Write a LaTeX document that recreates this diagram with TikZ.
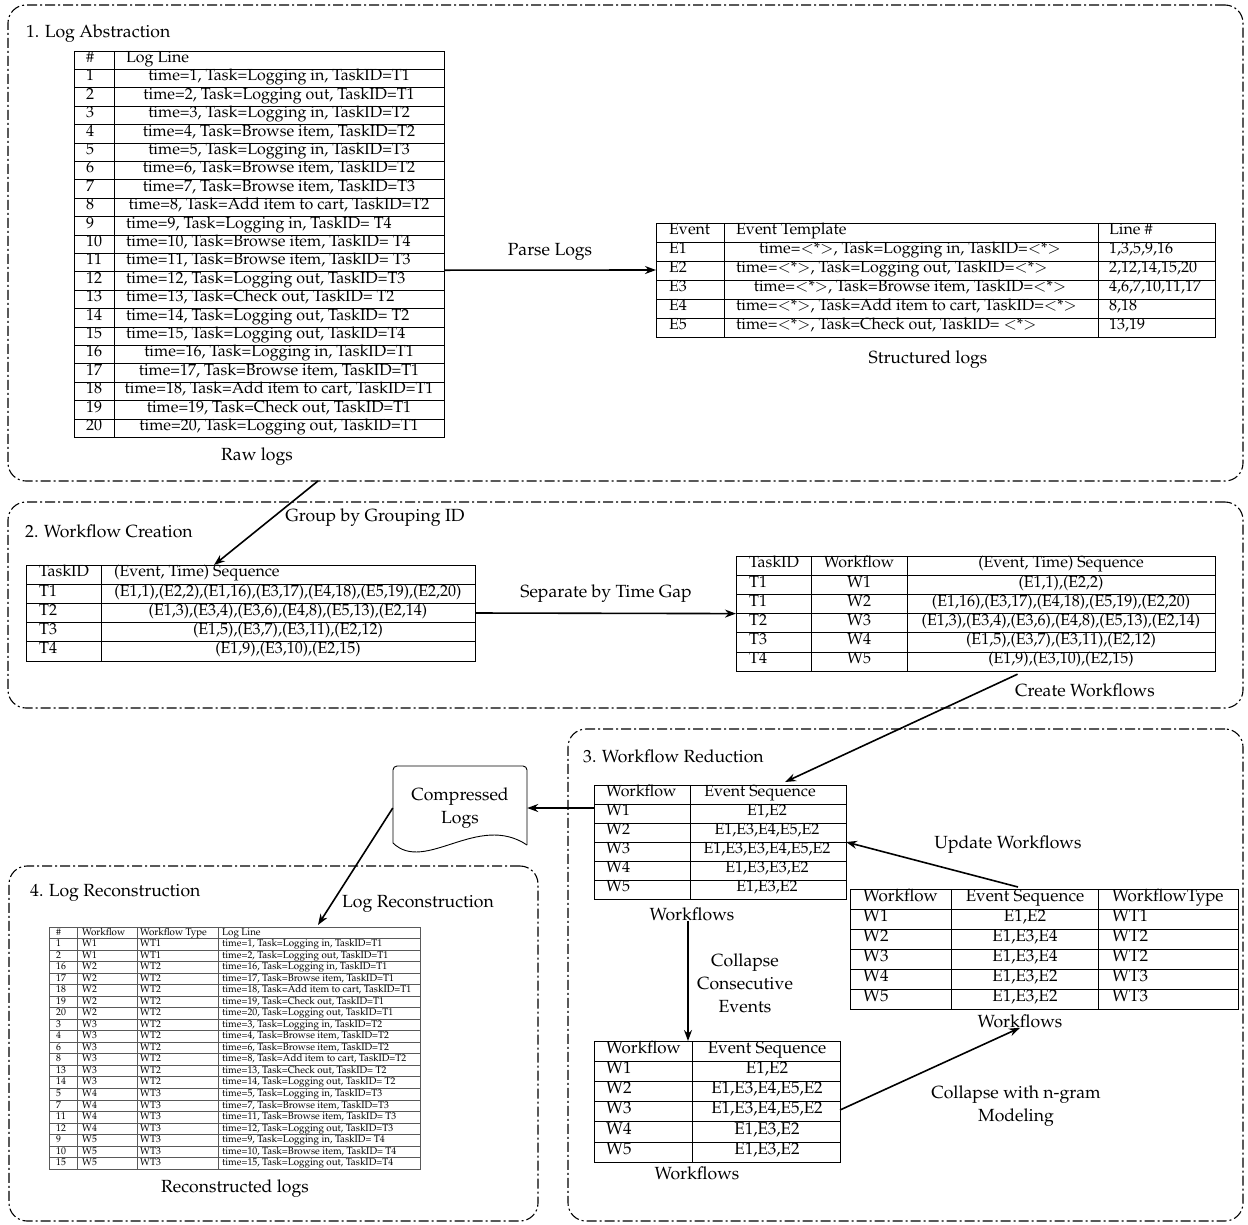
\documentclass[tikz,border=0pt]{standalone}
\usepackage[T1]{fontenc}
\usepackage{mathpazo}
\usepackage{tikz}
\usetikzlibrary{positioning, arrows.meta, calc}

\newcommand{\wild}{$<$*$>$}

\begin{document}
\begin{tikzpicture}[x=1pt, y=-1pt,
  secbox/.style={draw, line width=1.1pt, rounded corners=18pt, inner sep=0pt, outer sep=0pt,
    dash pattern=on 10pt off 3pt on 2pt off 3pt},
  tbl/.style={draw, line width=0.8pt, inner sep=0pt, outer sep=0pt, anchor=north west},
  rowline/.style={line width=0.7pt},
  cell/.style={inner sep=0pt, font=\fontsize{16}{19}\selectfont},
  bigcell/.style={inner sep=0pt, font=\fontsize{17}{20}\selectfont},
  tinycell/.style={inner sep=0pt, font=\fontsize{9.8}{11}\selectfont},
  title/.style={anchor=west, inner sep=0pt, font=\fontsize{17.6}{20}\selectfont},
  lbl/.style={inner sep=0pt, align=center, font=\fontsize{17.6}{23}\selectfont},
  flow/.style={-{Stealth[length=11pt,width=8pt]}, line width=1.6pt}]

  \useasboundingbox (0,0) rectangle (1248,1224);

  % --- Sezioni ---
  \node[secbox, minimum width=1235pt, minimum height=476pt] (sec1) at (625.5,243) {};
  \node[secbox, minimum width=1235pt, minimum height=206pt] (sec2) at (625.5,605) {};
  \node[secbox, minimum width=675pt, minimum height=492pt] (sec3) at (905.5,975) {};
  \node[secbox, minimum width=529pt, minimum height=355pt] (sec4) at (273.5,1043.5) {};

  \node[title] (t1) at (26,34) {1. Log Abstraction};
  \node[title] (t2) at (25,531) {2. Workflow Creation};
  \node[title] (t3) at (583,756) {3. Workflow Reduction};
  \node[title] (t4) at (30,893) {4. Log Reconstruction};

  % --- Raw logs ---
  \node[tbl, minimum width=370pt, minimum height=386.4pt] (raw) at (74,51) {};
  \draw[rowline] (114,51) -- (114,437.4);
  \foreach \k in {1,...,20}
    \draw[rowline] (74,{51+18.4*\k}) -- (444,{51+18.4*\k});
  \node[cell, anchor=mid] (raw-h1) at (90,60.2) {\#};
  \node[cell, anchor=mid west] (raw-h2) at (126,60.2) {Log Line};
  \foreach \k in {1,...,20}
    \node[cell, anchor=mid west] (raw-n\k) at (86,{60.2+18.4*\k}) {\k};
  \foreach \txt [count=\k] in {{time=1, Task=Logging in, TaskID=T1},
      {time=2, Task=Logging out, TaskID=T1}, {time=3, Task=Logging in, TaskID=T2},
      {time=4, Task=Browse item, TaskID=T2}, {time=5, Task=Logging in, TaskID=T3},
      {time=6, Task=Browse item, TaskID=T2}, {time=7, Task=Browse item, TaskID=T3},
      {time=8, Task=Add item to cart, TaskID=T2}}
    \node[cell, anchor=mid] (raw-l\k) at (279,{60.2+18.4*\k}) {\txt};
  \foreach \txt [count=\k from 9] in {{time=9, Task=Logging in, TaskID= T4},
      {time=10, Task=Browse item, TaskID= T4}, {time=11, Task=Browse item, TaskID= T3},
      {time=12, Task=Logging out, TaskID=T3}, {time=13, Task=Check out, TaskID= T2},
      {time=14, Task=Logging out, TaskID= T2}, {time=15, Task=Logging out, TaskID=T4}}
    \node[cell, anchor=mid west] (raw-l\k) at (126,{60.2+18.4*\k}) {\txt};
  \foreach \txt [count=\k from 16] in {{time=16, Task=Logging in, TaskID=T1},
      {time=17, Task=Browse item, TaskID=T1}, {time=18, Task=Add item to cart, TaskID=T1},
      {time=19, Task=Check out, TaskID=T1}, {time=20, Task=Logging out, TaskID=T1}}
    \node[cell, anchor=mid] (raw-l\k) at (279,{60.2+18.4*\k}) {\txt};
  \node[lbl] (cap1) at (257,457) {Raw logs};

  % --- Structured logs ---
  \node[tbl, minimum width=559pt, minimum height=114pt] (evt) at (656,223) {};
  \draw[rowline] (724,223) -- (724,337) (1098,223) -- (1098,337);
  \foreach \k in {1,...,5}
    \draw[rowline] (656,{223+19*\k}) -- (1215,{223+19*\k});
  \node[cell, anchor=mid west] (evt-h1) at (669,232.5) {Event};
  \node[cell, anchor=mid west] (evt-h2) at (736,232.5) {Event Template};
  \node[cell, anchor=mid west] (evt-h3) at (1109,232.5) {Line \#};
  \foreach \e/\ax/\an/\tpl/\ln [count=\k] in {
      E1/910/mid/{time=\wild, Task=Logging in, TaskID=\wild}/{1,3,5,9,16},
      E2/736/mid west/{time=\wild, Task=Logging out, TaskID=\wild}/{2,12,14,15,20},
      E3/910/mid/{time=\wild, Task=Browse item, TaskID=\wild}/{4,6,7,10,11,17},
      E4/736/mid west/{time=\wild, Task=Add item to cart, TaskID=\wild}/{8,18},
      E5/736/mid west/{time=\wild, Task=Check out, TaskID= \wild}/{13,19}}{
    \node[cell, anchor=mid west] (evt-e\k) at (669,{232.5+19*\k}) {\e};
    \node[cell, anchor=\an] (evt-t\k) at (\ax,{232.5+19*\k}) {\tpl};
    \node[cell, anchor=mid west] (evt-l\k) at (1109,{232.5+19*\k}) {\ln};
  }
  \node[lbl] (cap2) at (928,360) {Structured logs};

  \draw[flow] ([yshift=-26pt]raw.east) -- ([yshift=10pt]evt.west)
    node[lbl, midway, above=9pt] (lparse) {Parse Logs};

  % --- Workflow creation ---
  \node[tbl, minimum width=449pt, minimum height=96pt] (wfc) at (26,565) {};
  \draw[rowline] (101,565) -- (101,661);
  \foreach \k in {1,...,4}
    \draw[rowline] (26,{565+19.2*\k}) -- (475,{565+19.2*\k});
  \node[cell, anchor=mid west] (wfc-h1) at (39,574.6) {TaskID};
  \node[cell, anchor=mid west] (wfc-h2) at (114,574.6) {(Event, Time) Sequence};
  \foreach \t/\s [count=\k] in {T1/{(E1,1),(E2,2),(E1,16),(E3,17),(E4,18),(E5,19),(E2,20)},
      T2/{(E1,3),(E3,4),(E3,6),(E4,8),(E5,13),(E2,14)},
      T3/{(E1,5),(E3,7),(E3,11),(E2,12)}, T4/{(E1,9),(E3,10),(E2,15)}}{
    \node[cell, anchor=mid west] (wfc-t\k) at (39,{574.6+19.2*\k}) {\t};
    \node[cell, anchor=mid] (wfc-s\k) at (288,{574.6+19.2*\k}) {\s};
  }

  \node[tbl, minimum width=479pt, minimum height=115.2pt] (wfs) at (736,556) {};
  \draw[rowline] (811,556) -- (811,671.2) (907,556) -- (907,671.2);
  \foreach \k in {1,...,5}
    \draw[rowline] (736,{556+19.2*\k}) -- (1215,{556+19.2*\k});
  \node[cell, anchor=mid west] (wfs-h1) at (749,565.6) {TaskID};
  \node[cell, anchor=mid] (wfs-h2) at (859,565.6) {Workflow};
  \node[cell, anchor=mid] (wfs-h3) at (1061,565.6) {(Event, Time) Sequence};
  \foreach \t/\w/\s [count=\k] in {T1/W1/{(E1,1),(E2,2)},
      T1/W2/{(E1,16),(E3,17),(E4,18),(E5,19),(E2,20)},
      T2/W3/{(E1,3),(E3,4),(E3,6),(E4,8),(E5,13),(E2,14)},
      T3/W4/{(E1,5),(E3,7),(E3,11),(E2,12)}, T4/W5/{(E1,9),(E3,10),(E2,15)}}{
    \node[cell, anchor=mid west] (wfs-t\k) at (749,{565.6+19.2*\k}) {\t};
    \node[cell, anchor=mid] (wfs-w\k) at (859,{565.6+19.2*\k}) {\w};
    \node[cell, anchor=mid] (wfs-s\k) at (1061,{565.6+19.2*\k}) {\s};
  }

  \draw[flow] ([xshift=-307.5pt]sec1.south) -- ([xshift=-36.5pt]wfc.north);
  \node[lbl] (lgroup) at (375,518) {Group by Grouping ID};
  \draw[flow] (wfc.east) -- (wfs.west);
  \node[lbl] (lsep) at (606,594) {Separate by Time Gap};

  % --- Workflow reduction ---
  \node[tbl, minimum width=252pt, minimum height=114pt] (wfr) at (594,785) {};
  \draw[rowline] (690,785) -- (690,899);
  \foreach \k in {1,...,5}
    \draw[rowline] (594,{785+19*\k}) -- (846,{785+19*\k});
  \node[cell, anchor=mid west] (wfr-h1) at (606,794.5) {Workflow};
  \node[cell, anchor=mid] (wfr-h2) at (760,794.5) {Event Sequence};
  \foreach \w/\s [count=\k] in {W1/{E1,E2}, W2/{E1,E3,E4,E5,E2}, W3/{E1,E3,E3,E4,E5,E2},
      W4/{E1,E3,E3,E2}, W5/{E1,E3,E2}}{
    \node[cell, anchor=mid west] (wfr-w\k) at (606,{794.5+19*\k}) {\w};
    \node[cell, anchor=mid] (wfr-s\k) at (767,{794.5+19*\k}) {\s};
  }
  \node[lbl] (cap5) at (692,914) {Workflows};

  \node[tbl, minimum width=388pt, minimum height=120pt] (wft) at (850,889) {};
  \draw[rowline] (951,889) -- (951,1009) (1098,889) -- (1098,1009);
  \foreach \k in {1,...,5}
    \draw[rowline] (850,{889+20*\k}) -- (1238,{889+20*\k});
  \node[bigcell, anchor=mid west] (wft-h1) at (863,899) {Workflow};
  \node[bigcell, anchor=mid] (wft-h2) at (1025,899) {Event Sequence};
  \node[bigcell, anchor=mid west] (wft-h3) at (1112,899) {WorkflowType};
  \foreach \w/\s/\ty [count=\k] in {W1/{E1,E2}/WT1, W2/{E1,E3,E4}/WT2, W3/{E1,E3,E4}/WT2,
      W4/{E1,E3,E2}/WT3, W5/{E1,E3,E2}/WT3}{
    \node[bigcell, anchor=mid west] (wft-w\k) at (863,{899+20*\k}) {\w};
    \node[bigcell, anchor=mid] (wft-s\k) at (1025,{899+20*\k}) {\s};
    \node[bigcell, anchor=mid west] (wft-y\k) at (1112,{899+20*\k}) {\ty};
  }
  \node[lbl] (cap6) at (1020,1021) {Workflows};

  \node[tbl, minimum width=246pt, minimum height=121pt] (cmp) at (594,1041) {};
  \draw[rowline] (692,1041) -- (692,1162);
  \foreach \k in {1,...,5}
    \draw[rowline] (594,{1041+20.17*\k}) -- (840,{1041+20.17*\k});
  \node[bigcell, anchor=mid west] (cmp-h1) at (606,1051) {Workflow};
  \node[bigcell, anchor=mid] (cmp-h2) at (767,1051) {Event Sequence};
  \foreach \w/\s [count=\k] in {W1/{E1,E2}, W2/{E1,E3,E4,E5,E2}, W3/{E1,E3,E4,E5,E2},
      W4/{E1,E3,E2}, W5/{E1,E3,E2}}{
    \node[bigcell, anchor=mid west] (cmp-w\k) at (606,{1051+20.17*\k}) {\w};
    \node[bigcell, anchor=mid] (cmp-s\k) at (767,{1051+20.17*\k}) {\s};
  }
  \node[lbl] (cap7) at (697,1173) {Workflows};

  \draw[flow] ([xshift=-4pt]cap5.south) -- ([xshift=-4pt]cap5.south |- cmp.north);
  \node[lbl] (lcoll) at (745,983) {Collapse\\Consecutive\\Events};
  \draw[flow] ([yshift=-8.5pt]cmp.east) -- (cap6.south);
  \node[lbl] (lngram) at (1016,1106) {Collapse with n-gram\\Modeling};
  \draw[flow] ([xshift=-26pt,yshift=2pt]wft.north) -- (wfr.east);
  \node[lbl] (lupd) at (1008,845) {Update Workflows};
  \draw[flow] ([xshift=42pt,yshift=-3pt]wfs.south) -- ([xshift=65pt,yshift=3pt]wfr.north);
  \node[lbl] (lcreate) at (1085,690) {Create Workflows};

  % --- Compressed logs (documento) ---
  \node[lbl, minimum width=134pt, minimum height=84pt] (comp) at (460,808) {Compressed\\Logs};
  \draw[line width=0.9pt, rounded corners=4pt] (393,843) -- (393,766) -- (527,766) -- (527,845);
  \draw[line width=0.9pt] (393,843) .. controls (425,874) and (478,812) .. (527,845);
  \draw[flow] ([yshift=34pt]wfr.west) -- (comp.east);

  % --- Reconstructed logs ---
  \node[tbl, draw=black!65, minimum width=371pt, minimum height=242pt] (rec) at (49,927) {};
  \draw[rowline, black!65] (77,927) -- (77,1169) (137,927) -- (137,1169) (218,927) -- (218,1169);
  \foreach \k in {1,...,20}
    \draw[rowline, black!65] (49,{927+11.524*\k}) -- (420,{927+11.524*\k});
  \node[tinycell, anchor=mid west] (rec-h1) at (56,932.8) {\#};
  \node[tinycell, anchor=mid west] (rec-h2) at (82,932.8) {Workflow};
  \node[tinycell, anchor=mid west] (rec-h3) at (140,932.8) {Workflow Type};
  \node[tinycell, anchor=mid west] (rec-h4) at (222,932.8) {Log Line};
  \foreach \n/\w/\ty/\txt [count=\k] in {
      1/W1/WT1/{time=1, Task=Logging in, TaskID=T1},
      2/W1/WT1/{time=2, Task=Logging out, TaskID=T1},
      16/W2/WT2/{time=16, Task=Logging in, TaskID=T1},
      17/W2/WT2/{time=17, Task=Browse item, TaskID=T1},
      18/W2/WT2/{time=18, Task=Add item to cart, TaskID=T1},
      19/W2/WT2/{time=19, Task=Check out, TaskID=T1},
      20/W2/WT2/{time=20, Task=Logging out, TaskID=T1},
      3/W3/WT2/{time=3, Task=Logging in, TaskID=T2},
      4/W3/WT2/{time=4, Task=Browse item, TaskID=T2},
      6/W3/WT2/{time=6, Task=Browse item, TaskID=T2},
      8/W3/WT2/{time=8, Task=Add item to cart, TaskID=T2},
      13/W3/WT2/{time=13, Task=Check out, TaskID= T2},
      14/W3/WT2/{time=14, Task=Logging out, TaskID= T2},
      5/W4/WT3/{time=5, Task=Logging in, TaskID=T3},
      7/W4/WT3/{time=7, Task=Browse item, TaskID=T3},
      11/W4/WT3/{time=11, Task=Browse item, TaskID= T3},
      12/W4/WT3/{time=12, Task=Logging out, TaskID=T3},
      9/W5/WT3/{time=9, Task=Logging in, TaskID= T4},
      10/W5/WT3/{time=10, Task=Browse item, TaskID= T4},
      15/W5/WT3/{time=15, Task=Logging out, TaskID=T4}}{
    \node[tinycell, anchor=mid west] (rec-n\k) at (56,{932.8+11.524*\k}) {\n};
    \node[tinycell, anchor=mid west] (rec-w\k) at (82,{932.8+11.524*\k}) {\w};
    \node[tinycell, anchor=mid west] (rec-y\k) at (140,{932.8+11.524*\k}) {\ty};
    \node[tinycell, anchor=mid west] (rec-l\k) at (222,{932.8+11.524*\k}) {\txt};
  }
  \node[lbl] (cap8) at (235,1189) {Reconstructed logs};

  \draw[flow] (comp.west) -- ([xshift=83.5pt,yshift=2pt]rec.north);
  \node[lbl] (lrec) at (418,904) {Log Reconstruction};

\end{tikzpicture}
\end{document}
